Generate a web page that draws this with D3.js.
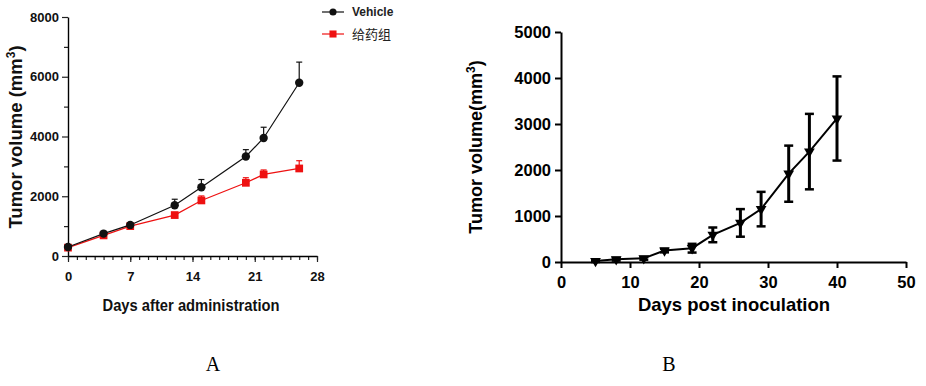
<!DOCTYPE html>
<html>
<head>
<meta charset="utf-8">
<script src="https://cdn.jsdelivr.net/npm/d3@7"></script>
<style>
  body { margin: 0; background: #fff; }
  svg { display: block; }
  .narrow { font-family: "Liberation Sans Narrow", "Arial Narrow", "Liberation Sans", Arial, sans-serif; font-weight: bold; }
  .arial { font-family: "Liberation Sans", Arial, sans-serif; font-weight: bold; }
</style>
</head>
<body>
<svg id="dessin" width="926" height="386"></svg>
<script>
// panel A
let joursA = [0, 4, 7, 12, 15, 20, 22, 26];
let vehicule = [300, 750, 1040, 1700, 2300, 3330, 3950, 5800];
let vehiculeErr = [60, 80, 60, 200, 260, 230, 360, 690];
let traite = [280, 690, 1000, 1370, 1860, 2450, 2730, 2930];
let traiteErr = [50, 60, 50, 80, 150, 170, 150, 260];
let ticksXA = [0, 7, 14, 21, 28];
let ticksYA = [0, 2000, 4000, 6000, 8000];

// panel B
let joursB = [5, 8, 12, 15, 19, 22, 26, 29, 33, 36, 40];
let volumeB = [20, 60, 80, 250, 300, 590, 850, 1150, 1920, 2400, 3120];
let volumeErrB = [20, 30, 30, 40, 95, 160, 300, 375, 610, 820, 915];
let ticksXB = [0, 10, 20, 30, 40, 50];
let ticksYB = [0, 1000, 2000, 3000, 4000, 5000];

const svg = d3.select("#dessin");
const fmt = d3.format("d");

// ---------- A ----------
const xA = d3.scaleLinear().domain([0, 28]).range([68, 317]);
const yA = d3.scaleLinear().domain([0, 8000]).range([256, 17]);

const gA = svg.append("g");

// minor ticks
gA.append("g")
    .attr("transform", "translate(0,256)")
    .call(d3.axisBottom(xA).tickValues(d3.range(0, 29)).tickSize(4).tickFormat(""))
    .call(g => g.select(".domain").remove());
gA.append("g")
    .attr("transform", "translate(68,0)")
    .call(d3.axisLeft(yA).tickValues([1000, 3000, 5000, 7000]).tickSize(4).tickFormat(""))
    .call(g => g.select(".domain").remove());

const axeXA = gA.append("g")
    .attr("transform", "translate(0,256)")
    .call(d3.axisBottom(xA).tickValues(ticksXA).tickFormat(fmt).tickSize(6).tickSizeOuter(0).tickPadding(10));
const axeYA = gA.append("g")
    .attr("transform", "translate(68,0)")
    .call(d3.axisLeft(yA).tickValues(ticksYA).tickFormat(fmt).tickSize(6).tickSizeOuter(0).tickPadding(3));

[axeXA, axeYA].forEach(a => {
  a.selectAll("text").attr("class", "narrow").style("font-size", "13px").attr("fill", "#111");
  a.select(".domain").attr("stroke-width", 1.4);
});
gA.selectAll(".tick line").attr("stroke", "#222").attr("stroke-width", 1.2);

const ligne = d3.line().x(d => xA(d[0])).y(d => yA(d[1]));

function serieA(moy, err, couleur, forme) {
  const pts = joursA.map((j, i) => [j, moy[i], err[i]]);
  gA.append("path").datum(pts).attr("d", ligne)
      .attr("fill", "none").attr("stroke", couleur).attr("stroke-width", 1.2);
  const eb = gA.append("g").selectAll("g").data(pts).enter().append("g");
  eb.append("line")
      .attr("x1", d => xA(d[0])).attr("x2", d => xA(d[0]))
      .attr("y1", d => yA(d[1])).attr("y2", d => yA(d[1] + d[2]))
      .attr("stroke", couleur).attr("stroke-width", 1.2);
  eb.append("line")
      .attr("x1", d => xA(d[0]) - 3).attr("x2", d => xA(d[0]) + 3)
      .attr("y1", d => yA(d[1] + d[2])).attr("y2", d => yA(d[1] + d[2]))
      .attr("stroke", couleur).attr("stroke-width", 1.2);
  gA.append("g").selectAll("path").data(pts).enter().append("path")
      .attr("transform", d => `translate(${xA(d[0])},${yA(d[1])})`)
      .attr("d", d3.symbol().type(forme).size(forme === d3.symbolSquare ? 60 : 55))
      .attr("fill", couleur);
}
serieA(traite, traiteErr, "#ee1111", d3.symbolSquare);
serieA(vehicule, vehiculeErr, "#111", d3.symbolCircle);

gA.append("text").attr("class", "narrow")
    .attr("transform", "translate(22,137) rotate(-90)")
    .attr("text-anchor", "middle").style("font-size", "18.5px").attr("fill", "#111")
    .html('Tumor volume (mm<tspan dy="-7" font-size="12px">3</tspan><tspan dy="7">)</tspan>');
gA.append("text").attr("class", "narrow")
    .attr("x", 191).attr("y", 311)
    .attr("text-anchor", "middle").style("font-size", "17px").attr("fill", "#111")
    .attr("textLength", 177).attr("lengthAdjust", "spacingAndGlyphs")
    .text("Days after administration");

// legend
const legende = [["Vehicle", "#111", d3.symbolCircle, 12], ["给药组", "#ee1111", d3.symbolSquare, 34]];
const lg = gA.append("g").selectAll("g").data(legende).enter().append("g")
    .attr("transform", d => `translate(333,${d[3]})`);
lg.append("line").attr("x1", -11).attr("x2", 11).attr("stroke", d => d[1]).attr("stroke-width", 1.2);
lg.append("path").attr("d", d => d3.symbol().type(d[2]).size(d[2] === d3.symbolSquare ? 50 : 40)())
    .attr("fill", d => d[1]);
lg.append("text").attr("x", 19).attr("y", d => d[0] === "Vehicle" ? 4 : 5)
    .attr("class", d => d[0] === "Vehicle" ? "narrow" : "")
    .style("font-family", d => d[0] === "Vehicle" ? null : "'Noto Sans CJK SC', sans-serif")
    .style("font-size", d => d[0] === "Vehicle" ? "12px" : "13px")
    .attr("fill", "#222")
    .text(d => d[0]);

// ---------- B ----------
const xB = d3.scaleLinear().domain([0, 50]).range([561, 906]);
const yB = d3.scaleLinear().domain([0, 5000]).range([262, 32]);
const gB = svg.append("g");

const axeXB = gB.append("g")
    .attr("transform", "translate(0,262)")
    .call(d3.axisBottom(xB).tickValues(ticksXB).tickFormat(fmt).tickSize(6).tickSizeOuter(0).tickPadding(8));
const axeYB = gB.append("g")
    .attr("transform", "translate(561,0)")
    .call(d3.axisLeft(yB).tickValues(ticksYB).tickFormat(fmt).tickSize(6).tickSizeOuter(0).tickPadding(4));
[axeXB, axeYB].forEach(a => {
  a.selectAll("text").attr("class", "arial").style("font-size", "16.5px").attr("fill", "#000");
  a.select(".domain").attr("stroke-width", 2);
  a.selectAll(".tick line").attr("stroke-width", 2);
});

const ligneB = d3.line().x(d => xB(d[0])).y(d => yB(d[1]));
const ptsB = joursB.map((j, i) => [j, volumeB[i], volumeErrB[i]]);
gB.append("path").datum(ptsB).attr("d", ligneB)
    .attr("fill", "none").attr("stroke", "#000").attr("stroke-width", 2);
const ebB = gB.append("g").selectAll("g").data(ptsB).enter().append("g");
ebB.append("line")
    .attr("x1", d => xB(d[0])).attr("x2", d => xB(d[0]))
    .attr("y1", d => yB(d[1] - d[2])).attr("y2", d => yB(d[1] + d[2]))
    .attr("stroke", "#000").attr("stroke-width", 3);
[1, -1].forEach(s => {
  ebB.append("line")
      .attr("x1", d => xB(d[0]) - 4.5).attr("x2", d => xB(d[0]) + 4.5)
      .attr("y1", d => yB(d[1] + s * d[2])).attr("y2", d => yB(d[1] + s * d[2]))
      .attr("stroke", "#000").attr("stroke-width", 2.5);
});
gB.append("g").selectAll("path").data(ptsB).enter().append("path")
    .attr("transform", d => `translate(${xB(d[0])},${yB(d[1])}) rotate(180)`)
    .attr("d", d3.symbol().type(d3.symbolTriangle).size(50))
    .attr("fill", "#000");

gB.append("text").attr("class", "arial")
    .attr("transform", "translate(482,147) rotate(-90)")
    .attr("text-anchor", "middle").style("font-size", "18px")
    .html('Tumor volume(mm<tspan dy="-7" font-size="12px">3</tspan><tspan dy="7">)</tspan>');
gB.append("text").attr("class", "arial")
    .attr("x", 734).attr("y", 311)
    .attr("text-anchor", "middle").style("font-size", "18.5px")
    .text("Days post inoculation");

// letters
svg.selectAll(".lettre").data([["A", 213], ["B", 669]]).enter().append("text")
    .attr("class", "lettre")
    .attr("x", d => d[1]).attr("y", 371)
    .attr("text-anchor", "middle")
    .style("font-family", "'Liberation Serif', 'Times New Roman', serif")
    .style("font-size", "20px")
    .text(d => d[0]);
</script>
</body>
</html>
